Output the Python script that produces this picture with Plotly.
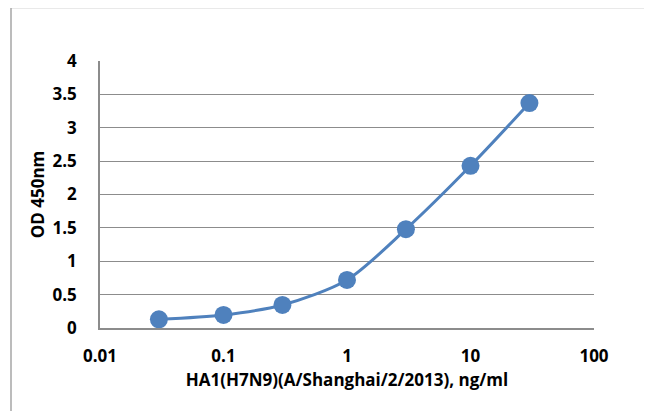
import plotly.graph_objects as go

concentration = [0.03, 0.1, 0.3, 1, 3, 10, 30]
od450 = [0.13, 0.195, 0.345, 0.72, 1.48, 2.43, 3.37]
x_tick_vals = [0.01, 0.1, 1, 10, 100]
x_tick_text = ["0.01", "0.1", "1", "10", "100"]

blue = "#4F81BD"
grid = "#8C8C8C"
font_fam = "Open Sans"
bold = dict(family=font_fam, size=17, color="black", weight=700)

fig = go.Figure()
fig.add_trace(go.Scatter(
    x=concentration, y=od450, mode="lines+markers",
    line=dict(color=blue, width=3, shape="spline", smoothing=0.8),
    marker=dict(color=blue, size=18),
    showlegend=False,
))

# page offset of 8px (browser body margin) compensated
OFF = 8
W, H = 652 - OFF, 411 - OFF
L, R, T, B = 100 - OFF, 58, 61 - OFF, 83
pw, ph = W - L - R, H - T - B

def px_x(p):
    return (p - OFF - L) / pw

def px_y(p):
    return (H - B - (p - OFF)) / ph

fig.update_layout(
    width=W, height=H,
    margin=dict(l=L, r=R, t=T, b=B, autoexpand=False),
    paper_bgcolor="white", plot_bgcolor="white",
    font=bold,
    xaxis=dict(
        type="log", range=[-2, 2], tickvals=x_tick_vals, ticktext=x_tick_text,
        showgrid=False, showline=True, linecolor=grid, linewidth=1.5,
        ticks="", ticklabelstandoff=12, zeroline=False, tickfont=bold,
        title=dict(text="HA1(H7N9)(A/Shanghai/2/2013), ng/ml", standoff=8,
                   font=bold),
        automargin=False,
    ),
    yaxis=dict(
        range=[0, 4], dtick=0.5, showgrid=True, gridcolor=grid, gridwidth=1,
        showline=True, linecolor=grid, linewidth=1.5, ticks="",
        ticklabelstandoff=18, zeroline=False, tickfont=bold,
        title=dict(text="OD 450nm", standoff=4, font=bold),
        automargin=False,
    ),
    shapes=[
        dict(type="rect", xref="paper", yref="paper",
             x0=px_x(11), x1=px_x(680), y0=px_y(7.5), y1=px_y(440),
             line=dict(color="#A6A6A6", width=1.5), layer="below"),
    ],
)

fig.write_html("out.html")
